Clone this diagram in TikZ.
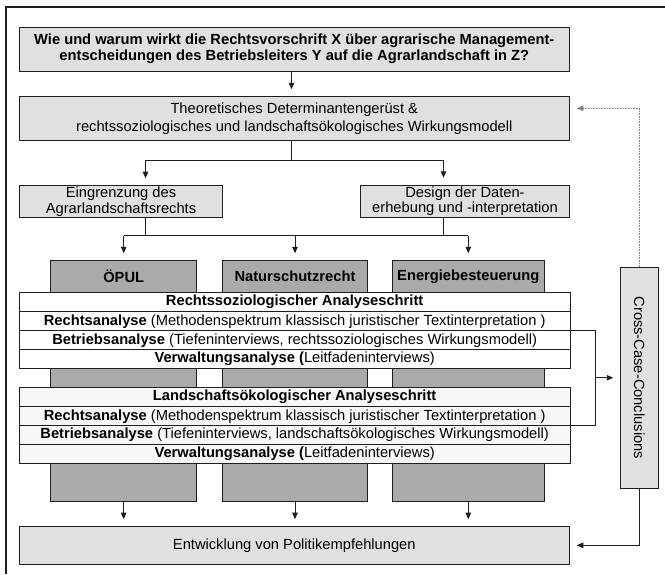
\documentclass[tikz,border=0pt]{standalone}
\usepackage{fontspec}
\usepackage{graphicx}
\setmainfont{Liberation Sans}
\usetikzlibrary{arrows.meta,calc}
\definecolor{boxgray}{RGB}{224,224,224}
\definecolor{colgray}{RGB}{170,170,170}
\definecolor{bandtwo}{RGB}{247,247,247}
\definecolor{linecol}{RGB}{30,30,30}
\newcommand\dfont{\fontsize{14.7}{16}\selectfont}
\begin{document}
\begin{tikzpicture}[x=1pt,y=-1pt,
  box/.style={draw=linecol, line width=0.9pt, fill=boxgray, inner sep=0pt, align=center, font=\dfont},
  colbox/.style={draw=linecol, line width=0.9pt, fill=colgray, inner sep=0pt, minimum height=241pt},
  coltext/.style={inner sep=0pt, font=\dfont\bfseries},
  rowA/.style={draw=linecol, line width=0.9pt, fill=white, inner sep=0pt, minimum width=550.7pt, minimum height=19pt, font=\dfont},
  rowB/.style={rowA, fill=bandtwo},
  conn/.style={draw=linecol, line width=0.8pt},
  arr/.style={conn, -{Triangle[length=6.5pt,width=5.5pt]}, shorten >=7pt},
  dotarr/.style={draw=gray, line width=0.6pt, densely dotted, -{Triangle[length=6.5pt,width=5.5pt]}, shorten >=7pt}
]
\useasboundingbox (0,0) rectangle (665,574);
% outer frame
\draw[line width=1.3pt, linecol] (6,574) -- (6,7) -- (665,7);

% top boxes
\node[box, minimum width=550pt, minimum height=44pt, font=\fontsize{14.7}{15.8}\selectfont\bfseries] (q) at (294.3,49)
  {Wie und warum wirkt die Rechtsvorschrift X über agrarische Management-\\entscheidungen des Betriebsleiters Y auf die Agrarlandschaft in Z?};
\node[box, minimum width=550pt, minimum height=44pt, font=\fontsize{14.7}{18.5}\selectfont] (theo) at (294.3,118.7)
  {Theoretisches Determinantengerüst \&\\rechtssoziologisches und landschaftsökologisches Wirkungsmodell};
\node[box, minimum width=203.4pt, minimum height=31.3pt, font=\fontsize{14.7}{16}\selectfont] (ein) at (121,201.3)
  {Eingrenzung des\\Agrarlandschaftsrechts};
\node[box, minimum width=208.6pt, minimum height=32pt, font=\fontsize{14.7}{14.5}\selectfont] (des) at (465,201.2)
  {Design der Daten-\\erhebung und -interpretation};

% columns
\node[colbox, minimum width=146pt] (c1) at (123.7,381.2) {};
\node[colbox, minimum width=144.6pt] (c2) at (295,381.2) {};
\node[colbox, minimum width=151.3pt] (c3) at (468.3,381.2) {};
\node[coltext] (t1) at (123.7,276.5) {ÖPUL};
\node[coltext] (t2) at (295,276.5) {Naturschutzrecht};
\node[coltext] (t3) at (468.3,276.5) {Energiebesteuerung};

% band 1
\node[rowA] (a1) at (294.65,302.2) {\textbf{Rechtssoziologischer Analyseschritt}};
\node[rowA] (a2) at (294.65,321.2) {\textbf{Rechtsanalyse} (Methodenspektrum klassisch juristischer Textinterpretation )};
\node[rowA] (a3) at (294.65,340.35) {\textbf{Betriebsanalyse} (Tiefeninterviews, rechtssoziologisches Wirkungsmodell)};
\node[rowA] (a4) at (294.65,359.15) {\textbf{Verwaltungsanalyse (}Leitfadeninterviews)};
% band 2
\node[rowB] (b1) at (294.65,397.2) {\textbf{Landschaftsökologischer Analyseschritt}};
\node[rowB] (b2) at (294.65,416.2) {\textbf{Rechtsanalyse} (Methodenspektrum klassisch juristischer Textinterpretation )};
\node[rowB] (b3) at (294.65,435) {\textbf{Betriebsanalyse} (Tiefeninterviews, landschaftsökologisches Wirkungsmodell)};
\node[rowB] (b4) at (294.65,453.8) {\textbf{Verwaltungsanalyse (}Leitfadeninterviews)};

% cross case and result
\node[box, minimum width=37.6pt, minimum height=221pt] (cc) at (639.5,377.8)
  {\rotatebox{-90}{Cross-Case-Conclusions}};
\node[box, minimum width=550pt, minimum height=37.3pt] (ent) at (294.3,545.3)
  {Entwicklung von Politikempfehlungen};

% helper coordinates
\coordinate (cx) at (291.5,0);
\coordinate (s1) at (291.5,160);
\coordinate (lx) at (145.5,0);
\coordinate (rx) at (443.5,0);
\coordinate (s2) at (0,235.7);
\coordinate (bx) at (595,0);
\coordinate (dy) at (0,108.3);

% connectors
\draw[arr] (q.south -| cx) -- (theo.north -| cx);
\draw[conn] (theo.south -| cx) -- (s1);
\draw[arr] (s1) -| (ein.north -| lx);
\draw[arr] (s1) -| (des.north -| rx);
\draw[conn] (ein.south -| lx) -- (s2 -| lx);
\draw[conn] (des.south -| rx) -- (s2 -| rx);
\draw[conn] (s2 -| c1.north) -- (s2 -| c3.north);
\foreach \c in {c1,c2,c3}{
  \draw[arr] (s2 -| \c.north) -- (\c.north);
  \draw[arr] (\c.south) -- (ent.north -| \c.south);
}
\draw[conn] (a3.north east) -- (a3.north east -| bx) -- (b3.north east -| bx) -- (b3.north east);
\draw[arr] (bx |- cc.west) -- (cc.west);
\draw[arr] (cc.south) |- (ent.east);
\draw[dotarr] (cc.north) |- (theo.east |- dy);
\end{tikzpicture}
\end{document}
